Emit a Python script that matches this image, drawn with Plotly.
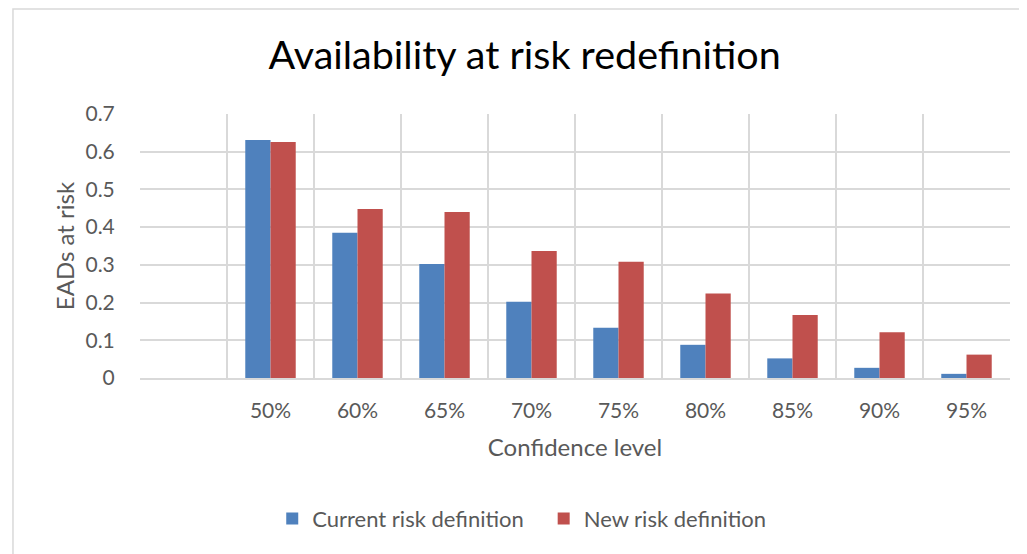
import plotly.graph_objects as go

# Chart data
categories = [" ", "50%", "60%", "65%", "70%", "75%", "80%", "85%", "90%", "95%"]
current_risk = [None, 0.631, 0.385, 0.302, 0.202, 0.133, 0.088, 0.052, 0.027, 0.011]
new_risk = [None, 0.626, 0.448, 0.440, 0.337, 0.308, 0.224, 0.167, 0.121, 0.062]
series_names = ["Current risk definition", "New risk definition"]

FONT = "Lato"
GREY = "#595959"
GRID = "#d9d9d9"

fig = go.Figure(data=[
    go.Bar(name=series_names[0], x=categories, y=current_risk, marker_color="#4f81bd",
           marker_line_width=0, legend="legend", showlegend=True),
    go.Bar(name=series_names[1], x=categories, y=new_risk, marker_color="#c0504d",
           marker_line_width=0, legend="legend2", showlegend=True),
])

# the page body adds an 8px offset, so the figure is sized to fit the window
legend_style = dict(orientation="h", xanchor="left", yanchor="middle", y=-0.533,
                    font=dict(size=22, color=GREY), itemwidth=30, bgcolor="rgba(0,0,0,0)")

fig.update_layout(
    width=1019,
    height=546,
    showlegend=True,
    barmode="group",
    bargap=0.42,
    bargroupgap=0,
    paper_bgcolor="white",
    plot_bgcolor="white",
    margin=dict(l=132, r=17, t=106, b=176, autoexpand=False),
    font=dict(family=FONT, color=GREY),
    title=dict(text="Availability at risk redefinition", x=0.507, xanchor="center",
               y=0.914, yanchor="middle", font=dict(family=FONT, size=39.5, color="black")),
    legend=dict(legend_style, x=0.152),
    legend2=dict(legend_style, x=0.464),
    shapes=[dict(type="rect", xref="paper", yref="paper", x0=-0.146, x1=1.2,
                 y0=-1, y1=1.398, line=dict(color=GRID, width=1.5), fillcolor="rgba(0,0,0,0)",
                 layer="below")],
)

fig.update_xaxes(
    type="category",
    automargin=False,
    tickson="boundaries",
    showgrid=True,
    gridcolor=GRID,
    gridwidth=1.5,
    showline=True,
    linecolor=GRID,
    linewidth=1.5,
    ticks="",
    ticklabelstandoff=13,
    tickfont=dict(size=21, color=GREY),
    title=dict(text="Confidence level", font=dict(size=24, color=GREY), standoff=18),
)

fig.update_yaxes(
    range=[0, 0.7],
    automargin=False,
    dtick=0.1,
    tick0=0,
    showgrid=True,
    gridcolor=GRID,
    gridwidth=1.5,
    zeroline=False,
    showline=False,
    ticks="outside",
    ticklen=20,
    tickcolor="rgba(0,0,0,0)",
    tickfont=dict(size=21, color=GREY),
    title=dict(text="EADs at risk", font=dict(size=24, color=GREY), standoff=4),
)

fig.write_html("out.html")
